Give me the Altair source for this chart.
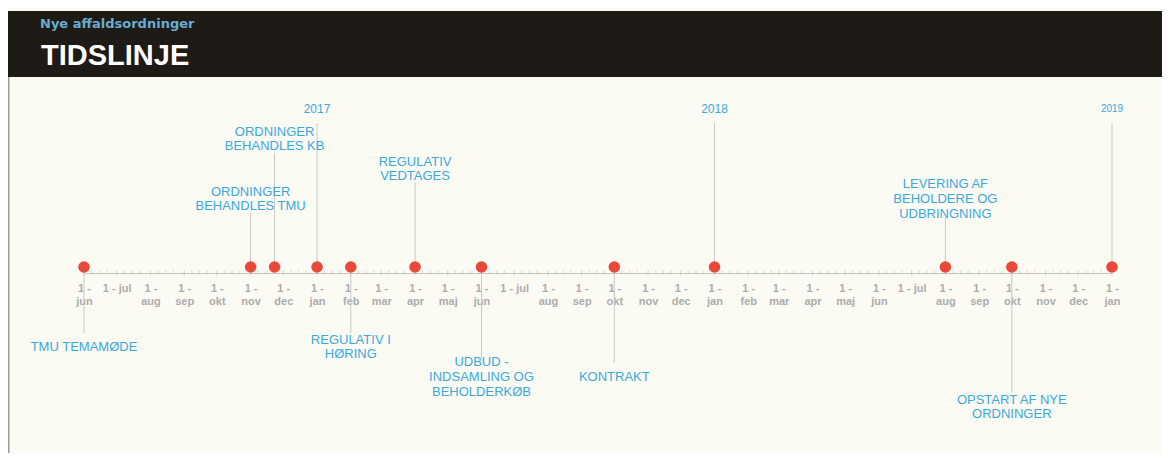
import altair as alt
import pandas as pd

# ---------------- data ----------------
event_dates = ["2016-06-01", "2016-11-01", "2016-11-23", "2017-01-01", "2017-02-01",
               "2017-04-01", "2017-06-01", "2017-10-01", "2018-01-01", "2018-08-01",
               "2018-10-01", "2019-01-01"]
event_labels = ["TMU TEMAMØDE", "ORDNINGER\nBEHANDLES TMU", "ORDNINGER\nBEHANDLES KB", "2017",
                "REGULATIV I\nHØRING", "REGULATIV\nVEDTAGES", "UDBUD -\nINDSAMLING OG\nBEHOLDERKØB",
                "KONTRAKT", "2018", "LEVERING AF\nBEHOLDERE OG\nUDBRINGNING",
                "OPSTART AF NYE\nORDNINGER", "2019"]
event_lanes = [-3, 2, 4, 5, -3, 3, -4, -4, 5, 2, -5, 5]
event_kinds = ["event", "event", "event", "year", "event", "event", "event",
               "event", "year", "event", "event", "year"]

month_names = ["jan", "feb", "mar", "apr", "maj", "jun", "jul", "aug", "sep", "okt", "nov", "dec"]
header_subtitle = "Nye affaldsordninger"
header_title = "TIDSLINJE"

# ---------------- layout ----------------
W, H = 1154, 445
LINE_Y = 265          # timeline (axis) position in plot px
LANE_PX = 30
LINE_H = 14.7
DY_ABOVE, DY_BELOW = -8, -10
BLUE = "#3aa9dc"

df = pd.DataFrame({"date": event_dates, "label": event_labels,
                   "lane": event_lanes, "kind": event_kinds})
df["zero"] = 0
df["nlines"] = df["label"].str.count("\n") + 1
gap = (7.3 * df["nlines"] - 3).clip(lower=14)
df["stem_end"] = [l + (8 - g) / LANE_PX if l > 0 else l + (10 + g) / LANE_PX
                  for l, g in zip(df["lane"], gap)]

# axis tick positions (month starts) and minor ticks
month_starts = []
minor = []
y, m = 2016, 6
while (y, m) <= (2019, 1):
    month_starts.append(f"{y:04d}-{m:02d}-01")
    if (y, m) < (2019, 1):
        for d in (8, 15, 22):
            minor.append(f"{y:04d}-{m:02d}-{d:02d}")
    m += 1
    if m > 12:
        m, y = 1, y + 1

major_df = pd.DataFrame({"t": month_starts})
minor_df = pd.DataFrame({"t": minor})

xscale = alt.Scale(type="utc",
                   domain=[alt.DateTime(year=2016, month=6, date=1, utc=True),
                           alt.DateTime(year=2019, month=1, date=1, utc=True)],
                   range=[76, 1104])
yscale = alt.Scale(domain=[-6, 6], range=[259 + 6 * LANE_PX, 259 - 6 * LANE_PX])

names_js = "[" + ",".join(f"'{n}'" for n in month_names) + "]"
xaxis = alt.Axis(
    values=[alt.DateTime(year=int(s[:4]), month=int(s[5:7]), date=1, utc=True) for s in month_starts],
    labelExpr=f"utcmonth(datum.value) == 6 ? '1 - jul' : ['1 -', {names_js}[utcmonth(datum.value)]]",
    ticks=False, tickSize=0, grid=False, domain=True, domainColor="#c4c4c4", domainWidth=1,
    labelFont="Liberation Sans", labelFontSize=11, labelFontWeight="bold", labelColor="#acacac",
    labelLineHeight=13, labelPadding=9, labelOverlap=False, labelFlush=False, labelBound=False,
    labelAngle=0, title=None, orient="bottom", offset=LINE_Y - H,
)
X = alt.X("date:T", scale=xscale, axis=xaxis)

one = pd.DataFrame({"a": [0]})

header_band = alt.Chart(one).mark_rect(color="#1e1a15").encode(
    x=alt.value(0), x2=alt.value(W), y=alt.value(3), y2=alt.value(69))
left_border = alt.Chart(one).mark_rule(color="#9a9a9a", strokeWidth=1.5).encode(
    x=alt.value(0.75), y=alt.value(69), y2=alt.value(H))
sub_text = alt.Chart(pd.DataFrame({"t": [header_subtitle]})).mark_text(
    font="DejaVu Sans", fontWeight="bold", fontSize=13, color="#68add4",
    align="left", baseline="alphabetic").encode(
    x=alt.value(32), y=alt.value(20), text="t:N")
title_text = alt.Chart(pd.DataFrame({"t": [header_title]})).mark_text(
    font="Liberation Sans", fontWeight="bold", fontSize=29, color="#ffffff",
    align="left", baseline="alphabetic").encode(
    x=alt.value(33), y=alt.value(57), text="t:N")

major_ticks = alt.Chart(major_df).mark_tick(color="#bdbdbd", thickness=1, size=5).encode(
    x=alt.X("t:T", scale=xscale, axis=xaxis), y=alt.value(LINE_Y))
minor_ticks = alt.Chart(minor_df).mark_tick(color="#c4c4c4", thickness=1, size=3).encode(
    x=alt.X("t:T", scale=xscale, axis=xaxis), y=alt.value(LINE_Y - 1))

base = alt.Chart(df).transform_calculate(
    # first-line position so that a multi-line block is centred on its lane
    ytext=f"datum.lane + (datum.nlines - 1) * {LINE_H} / {2 * LANE_PX}"
)
stems = base.mark_rule(color="#c8c8c8", strokeWidth=1).encode(
    x=X, y=alt.Y("zero:Q", scale=yscale, axis=None), y2="stem_end:Q")
dots = base.mark_circle(size=135, color="#e8493a", opacity=1).encode(
    x=X, y=alt.Y("zero:Q", scale=yscale, axis=None))

txt_common = dict(font="Liberation Sans", color=BLUE, lineBreak="\n", lineHeight=LINE_H,
                  align="center", baseline="middle")
above = base.transform_filter("datum.lane > 0 && datum.kind == 'event'").mark_text(
    fontSize=13, dy=DY_ABOVE, **txt_common).encode(
    x=X, y=alt.Y("ytext:Q", scale=yscale, axis=None), text="label:N")
below = base.transform_filter("datum.lane < 0").mark_text(
    fontSize=13, dy=DY_BELOW, **txt_common).encode(
    x=X, y=alt.Y("ytext:Q", scale=yscale, axis=None), text="label:N")
years = base.transform_filter("datum.kind == 'year'").mark_text(
    dy=DY_ABOVE, **txt_common).encode(
    x=X, y=alt.Y("ytext:Q", scale=yscale, axis=None), text="label:N",
    size=alt.condition("datum.label == '2019'", alt.value(10), alt.value(12)))

chart = alt.layer(
    header_band, left_border, sub_text, title_text,
    minor_ticks, major_ticks, stems, dots, above, below, years,
).properties(
    width=W, height=H, padding=0, autosize=alt.AutoSizeParams(type="none"),
    background="#fbfbf4",
).configure_view(stroke=None)

chart.save("out.html", embed_options={"renderer": "svg", "actions": False})
